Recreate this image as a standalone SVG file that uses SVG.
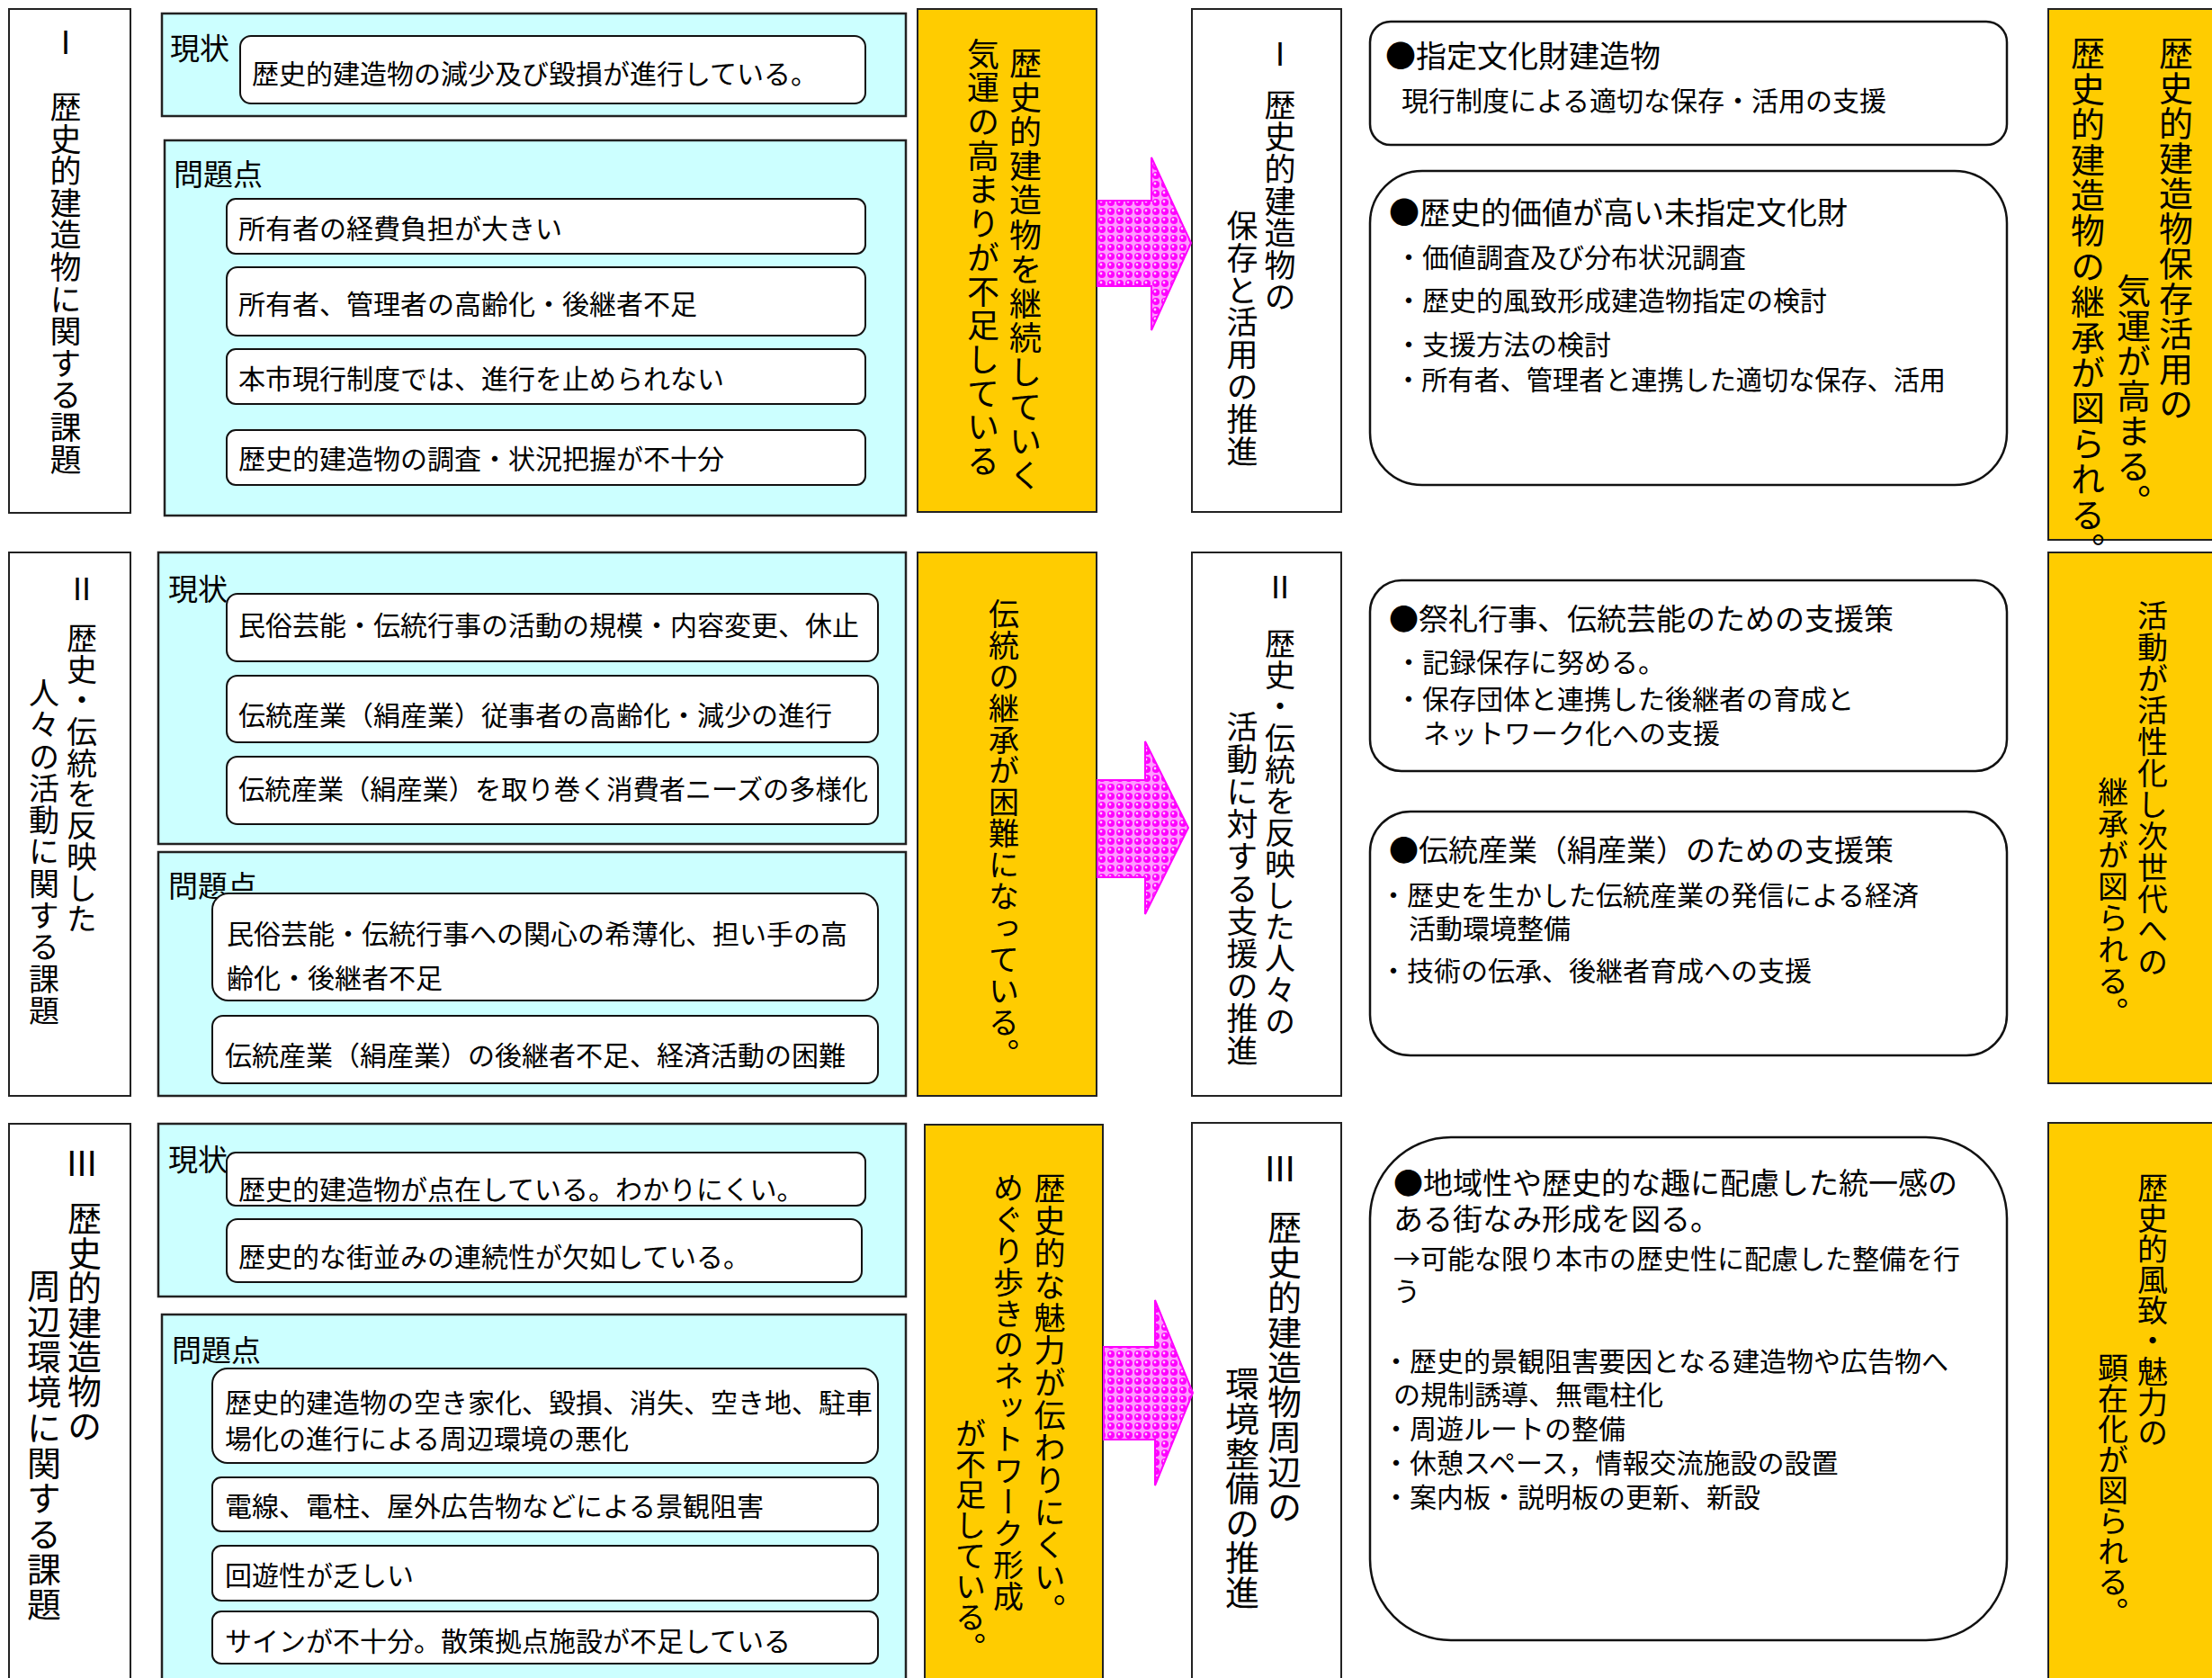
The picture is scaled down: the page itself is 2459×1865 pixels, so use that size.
<svg xmlns="http://www.w3.org/2000/svg" width="2459" height="1865" viewBox="0 0 2459 1865">
<style>
text{font-family:"Noto Sans CJK JP","Noto Sans CJK SC",sans-serif;fill:#000}
.box{fill:#fff;stroke:#222;stroke-width:2}
.cy{fill:#ccffff;stroke:#222;stroke-width:2.5}
.yl{fill:#ffcc00;stroke:#222;stroke-width:2}
.it{fill:#fff;stroke:#111;stroke-width:2}
.rb{fill:#fff;stroke:#111;stroke-width:2.5}
.v{writing-mode:vertical-rl}
.t30{font-size:30px}
.t33{font-size:33px}
.t34{font-size:34px}
.arrow{fill:url(#dots);stroke:#ff00ff;stroke-width:2}
</style>
<defs>
<pattern id="dots" width="10" height="10" patternUnits="userSpaceOnUse">
<rect width="10" height="10" fill="#ff99ff"/>
<circle cx="5" cy="5" r="4" fill="#ff00ff"/>
<circle cx="4" cy="4" r="1.4" fill="#ffd0ff"/>
</pattern>
</defs>

<!-- Row I -->
<g id="r1-issue">
<rect class="box" x="10" y="10" width="135" height="560"/>
<text class="v" x="73" y="30" font-size="35" letter-spacing="0.6">Ⅰ　歴史的建造物に関する課題</text>
</g>
<g id="r1-current">
<rect class="cy" x="180" y="15" width="827" height="114"/>
<text class="t33" x="189" y="66">現状</text>
<rect class="it" x="267" y="40" width="695" height="75" rx="12"/>
<text class="t30" x="280" y="93">歴史的建造物の減少及び毀損が進行している。</text>
</g>
<g id="r1-problems">
<rect class="cy" x="183" y="156" width="824" height="417"/>
<text class="t33" x="193" y="206">問題点</text>
<rect class="it" x="252" y="221" width="710" height="61" rx="10"/>
<text class="t30" x="265" y="265">所有者の経費負担が大きい</text>
<rect class="it" x="252" y="297" width="710" height="76" rx="12"/>
<text class="t30" x="265" y="349">所有者、管理者の高齢化・後継者不足</text>
<rect class="it" x="252" y="388" width="710" height="61" rx="10"/>
<text class="t30" x="265" y="432">本市現行制度では、進行を止められない</text>
<rect class="it" x="252" y="478" width="710" height="61" rx="10"/>
<text class="t30" x="265" y="521">歴史的建造物の調査・状況把握が不十分</text>
</g>
<g id="r1-summary">
<rect class="yl" x="1020" y="10" width="199" height="559"/>
<text class="v" x="1140" y="52" font-size="36" letter-spacing="2.2">歴史的建造物を継続していく</text>
<text class="v" x="1093" y="42" font-size="36" letter-spacing="1.7">気運の高まりが不足している</text>
</g>
<g id="r1-policy">
<rect class="box" x="1325" y="10" width="166" height="559"/>
<text class="v" x="1423" y="43" font-size="35">Ⅰ</text>
<text class="v" x="1423" y="99" font-size="35" letter-spacing="0.6">歴史的建造物の</text>
<text class="v" x="1381" y="233" font-size="35" letter-spacing="0.9">保存と活用の推進</text>
</g>
<g id="r1-measure1">
<rect class="rb" x="1523" y="24" width="708" height="137" rx="23"/>
<text class="t34" x="1540" y="75">●指定文化財建造物</text>
<text class="t30" x="1558" y="123">現行制度による適切な保存・活用の支援</text>
</g>
<g id="r1-measure2">
<rect class="rb" x="1523" y="190" width="708" height="349" rx="58"/>
<text class="t34" x="1544" y="249">●歴史的価値が高い未指定文化財</text>
<text class="t30" x="1551" y="297">・価値調査及び分布状況調査</text>
<text class="t30" x="1551" y="345">・歴史的風致形成建造物指定の検討</text>
<text class="t30" x="1551" y="394">・支援方法の検討</text>
<text class="t30" x="1551" y="433" textLength="612" lengthAdjust="spacingAndGlyphs">・所有者、管理者と連携した適切な保存、活用</text>
</g>
<g id="r1-result">
<rect class="yl" x="2277" y="10" width="190" height="590"/>
<text class="v" x="2419" y="40" font-size="38" letter-spacing="1">歴史的建造物保存活用の</text>
<text class="v" x="2372" y="304" font-size="38" letter-spacing="1">気運が高まる。</text>
<text class="v" x="2321" y="40" font-size="38" letter-spacing="1.4">歴史的建造物の継承が図られる。</text>
</g>

<!-- Row II -->
<g id="r2-issue">
<rect class="box" x="10" y="614" width="135" height="604"/>
<text class="v" x="91" y="638" font-size="34">Ⅱ</text>
<text class="v" x="91" y="692" font-size="34" letter-spacing="0.7">歴史・伝統を反映した</text>
<text class="v" x="49" y="753" font-size="34" letter-spacing="1.3">人々の活動に関する課題</text>
</g>
<g id="r2-current">
<rect class="cy" x="176" y="614" width="831" height="324"/>
<text class="t33" x="187" y="667">現状</text>
<rect class="it" x="252" y="660" width="724" height="75" rx="12"/>
<text class="t30" x="265" y="706">民俗芸能・伝統行事の活動の規模・内容変更、休止</text>
<rect class="it" x="252" y="751" width="724" height="74" rx="12"/>
<text class="t30" x="265" y="806">伝統産業（絹産業）従事者の高齢化・減少の進行</text>
<rect class="it" x="252" y="841" width="724" height="75" rx="12"/>
<text class="t30" x="265" y="888" textLength="700" lengthAdjust="spacingAndGlyphs">伝統産業（絹産業）を取り巻く消費者ニーズの多様化</text>
</g>
<g id="r2-problems">
<rect class="cy" x="176" y="947" width="831" height="271"/>
<text class="t33" x="187" y="997">問題点</text>
<rect class="it" x="236" y="993" width="740" height="119" rx="18"/>
<text class="t30" x="252" y="1049">民俗芸能・伝統行事への関心の希薄化、担い手の高</text>
<text class="t30" x="252" y="1098">齢化・後継者不足</text>
<rect class="it" x="236" y="1129" width="740" height="75" rx="12"/>
<text class="t30" x="250" y="1184">伝統産業（絹産業）の後継者不足、経済活動の困難</text>
</g>
<g id="r2-summary">
<rect class="yl" x="1020" y="614" width="199" height="604"/>
<text class="v" x="1116" y="665" font-size="34" letter-spacing="0.9">伝統の継承が困難になっている。</text>
</g>
<g id="r2-policy">
<rect class="box" x="1325" y="614" width="166" height="604"/>
<text class="v" x="1423" y="636" font-size="34">Ⅱ</text>
<text class="v" x="1423" y="698" font-size="34" letter-spacing="1">歴史・伝統を反映した人々の</text>
<text class="v" x="1381" y="790" font-size="35" letter-spacing="1">活動に対する支援の推進</text>
</g>
<g id="r2-measure1">
<rect class="rb" x="1523" y="645" width="708" height="212" rx="35"/>
<text class="t33" x="1544" y="700">●祭礼行事、伝統芸能のための支援策</text>
<text class="t30" x="1551" y="747">・記録保存に努める。</text>
<text class="t30" x="1551" y="788">・保存団体と連携した後継者の育成と</text>
<text class="t30" x="1582" y="826">ネットワーク化への支援</text>
</g>
<g id="r2-measure2">
<rect class="rb" x="1523" y="902" width="708" height="271" rx="45"/>
<text class="t33" x="1544" y="957">●伝統産業（絹産業）のための支援策</text>
<text class="t30" x="1534" y="1006">・歴史を生かした伝統産業の発信による経済</text>
<text class="t30" x="1566" y="1043">活動環境整備</text>
<text class="t30" x="1534" y="1090">・技術の伝承、後継者育成への支援</text>
</g>
<g id="r2-result">
<rect class="yl" x="2277" y="614" width="190" height="590"/>
<text class="v" x="2393" y="667" font-size="34" letter-spacing="1">活動が活性化し次世代への</text>
<text class="v" x="2349" y="863" font-size="34" letter-spacing="1">継承が図られる。</text>
</g>

<!-- Row III -->
<g id="r3-issue">
<rect class="box" x="10" y="1249" width="135" height="700"/>
<text class="v" x="91" y="1274" font-size="38">Ⅲ</text>
<text class="v" x="94" y="1335" font-size="38" letter-spacing="0.4">歴史的建造物の</text>
<text class="v" x="49" y="1410" font-size="38" letter-spacing="1.3">周辺環境に関する課題</text>
</g>
<g id="r3-current">
<rect class="cy" x="176" y="1249" width="831" height="192"/>
<text class="t33" x="187" y="1301">現状</text>
<rect class="it" x="252" y="1281" width="710" height="59" rx="10"/>
<text class="t30" x="265" y="1333">歴史的建造物が点在している。わかりにくい。</text>
<rect class="it" x="252" y="1355" width="706" height="70" rx="12"/>
<text class="t30" x="265" y="1408">歴史的な街並みの連続性が欠如している。</text>
</g>
<g id="r3-problems">
<rect class="cy" x="180" y="1461" width="827" height="450"/>
<text class="t33" x="191" y="1513">問題点</text>
<rect class="it" x="236" y="1521" width="740" height="105" rx="17"/>
<text class="t30" x="250" y="1570">歴史的建造物の空き家化、毀損、消失、空き地、駐車</text>
<text class="t30" x="250" y="1610">場化の進行による周辺環境の悪化</text>
<rect class="it" x="236" y="1642" width="740" height="60" rx="10"/>
<text class="t30" x="250" y="1685">電線、電柱、屋外広告物などによる景観阻害</text>
<rect class="it" x="236" y="1718" width="740" height="61" rx="10"/>
<text class="t30" x="250" y="1762">回遊性が乏しい</text>
<rect class="it" x="236" y="1791" width="740" height="58" rx="10"/>
<text class="t30" x="250" y="1835">サインが不十分。散策拠点施設が不足している</text>
</g>
<g id="r3-summary">
<rect class="yl" x="1028" y="1250" width="198" height="700"/>
<text class="v" x="1167" y="1303" font-size="35" letter-spacing="1">歴史的な魅力が伝わりにくい。</text>
<text class="v" x="1121" y="1303" font-size="34" letter-spacing="0.9">めぐり歩きのネットワーク形成</text>
<text class="v" x="1079" y="1576" font-size="34">が不足している。</text>
</g>
<g id="r3-policy">
<rect class="box" x="1325" y="1248" width="166" height="700"/>
<text class="v" x="1423" y="1280" font-size="38">Ⅲ</text>
<text class="v" x="1428" y="1345" font-size="38" letter-spacing="0.8">歴史的建造物周辺の</text>
<text class="v" x="1381" y="1519" font-size="38" letter-spacing="0.6">環境整備の推進</text>
</g>
<g id="r3-measure">
<rect class="rb" x="1523" y="1264" width="708" height="559" rx="90"/>
<text class="t33" x="1549" y="1327">●地域性や歴史的な趣に配慮した統一感の</text>
<text class="t33" x="1549" y="1367">ある街なみ形成を図る。</text>
<text class="t30" x="1549" y="1410">→可能な限り本市の歴史性に配慮した整備を行</text>
<text class="t30" x="1549" y="1446">う</text>
<text class="t30" x="1537" y="1524">・歴史的景観阻害要因となる建造物や広告物へ</text>
<text class="t30" x="1549" y="1561">の規制誘導、無電柱化</text>
<text class="t30" x="1537" y="1599">・周遊ルートの整備</text>
<text class="t30" x="1537" y="1637">・休憩スペース，情報交流施設の設置</text>
<text class="t30" x="1537" y="1675">・案内板・説明板の更新、新設</text>
</g>
<g id="r3-result">
<rect class="yl" x="2277" y="1248" width="190" height="700"/>
<text class="v" x="2393" y="1303" font-size="34">歴史的風致・魅力の</text>
<text class="v" x="2349" y="1503" font-size="34">顕在化が図られる。</text>
</g>

<g id="connectors">
<polygon class="arrow" points="1220,223 1280,223 1280,175 1324,270 1280,367 1280,318 1220,318"/>
<polygon class="arrow" points="1220,867 1273,867 1273,824 1321,920 1273,1016 1273,975 1220,975"/>
<polygon class="arrow" points="1227,1497 1284,1497 1284,1445 1326,1548 1284,1651 1284,1600 1227,1600"/>
</g>
</svg>
